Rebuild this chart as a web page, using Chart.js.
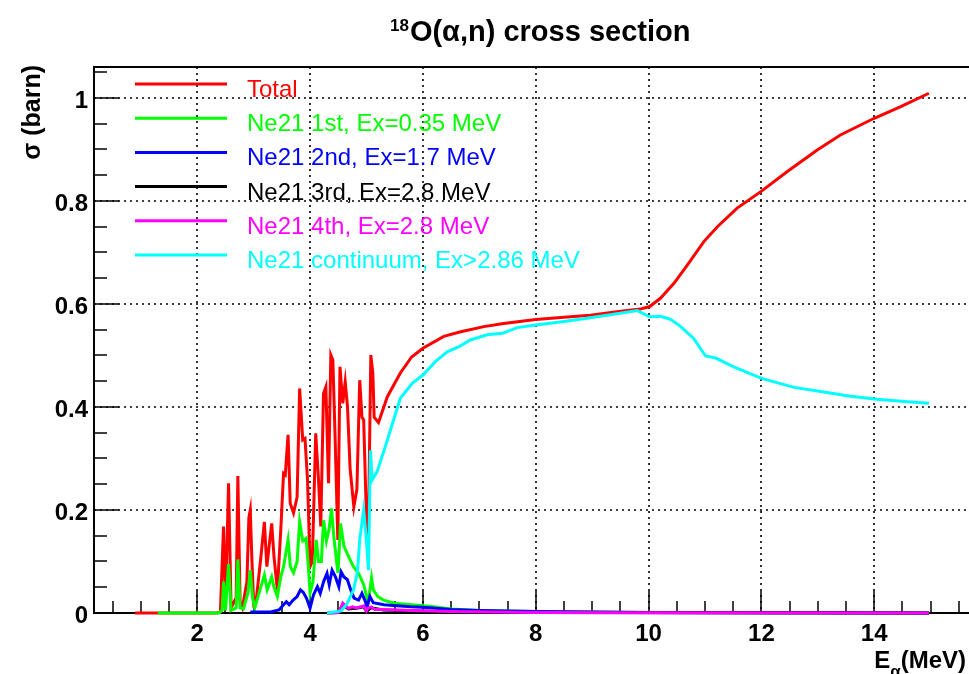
<!DOCTYPE html>
<html><head><meta charset="utf-8">
<script src="https://cdn.jsdelivr.net/npm/chart.js@4.4.1/dist/chart.umd.min.js"></script>
<style>html,body{margin:0;padding:0;background:#fff;overflow:hidden}canvas{display:block}</style>
</head><body>
<canvas id="c" width="969" height="674"></canvas>
<script>
// ---- data (E_alpha in MeV, sigma in barn) ----
const totalE = [0.9, 2.35, 2.41, 2.466, 2.50, 2.555, 2.60, 2.69, 2.72, 2.76, 2.80, 2.88, 2.915, 2.94, 2.97, 3.0, 3.05, 3.12, 3.19, 3.234, 3.32, 3.36, 3.42, 3.48, 3.53, 3.56, 3.61, 3.648, 3.707, 3.77, 3.815, 3.87, 3.91, 3.955, 4.0, 4.04, 4.10, 4.15, 4.19, 4.238, 4.28, 4.327, 4.368, 4.404, 4.445, 4.492, 4.53, 4.58, 4.623, 4.663, 4.71, 4.776, 4.83, 4.88, 4.92, 4.95, 4.99, 5.03, 5.077, 5.113, 5.136, 5.213, 5.37, 5.6, 5.8, 6.0, 6.37, 6.67, 7.08, 7.43, 8.0, 8.5, 8.97, 9.44, 9.85, 10.02, 10.21, 10.45, 10.69, 10.98, 11.22, 11.57, 11.99, 12.46, 12.99, 13.40, 13.99, 14.47, 14.97];
const totalS = [0, 0, 0.002, 0.168, 0.01, 0.252, 0.01, 0.03, 0.266, 0.02, 0.01, 0.06, 0.185, 0.2, 0.1, 0.02, 0.03, 0.1, 0.177, 0.09, 0.174, 0.11, 0.045, 0.16, 0.271, 0.268, 0.346, 0.213, 0.194, 0.225, 0.436, 0.336, 0.339, 0.258, 0.09, 0.1, 0.349, 0.258, 0.168, 0.426, 0.439, 0.252, 0.501, 0.491, 0.336, 0.142, 0.478, 0.407, 0.449, 0.401, 0.28, 0.206, 0.24, 0.452, 0.38, 0.375, 0.22, 0.13, 0.501, 0.465, 0.38, 0.37, 0.42, 0.466, 0.497, 0.514, 0.537, 0.546, 0.556, 0.562, 0.570, 0.574, 0.578, 0.585, 0.59, 0.595, 0.611, 0.640, 0.676, 0.721, 0.750, 0.786, 0.818, 0.857, 0.899, 0.928, 0.960, 0.983, 1.009];

const ne1E = [1.3, 2.38, 2.44, 2.466, 2.50, 2.555, 2.60, 2.69, 2.72, 2.76, 2.82, 2.90, 2.94, 2.98, 3.02, 3.10, 3.19, 3.24, 3.32, 3.36, 3.42, 3.48, 3.53, 3.61, 3.65, 3.707, 3.77, 3.815, 3.87, 3.93, 3.97, 4.0, 4.05, 4.11, 4.15, 4.2, 4.24, 4.29, 4.34, 4.38, 4.42, 4.47, 4.495, 4.54, 4.6, 4.68, 4.77, 4.86, 4.95, 5.03, 5.09, 5.12, 5.2, 5.3, 5.5, 6.0, 6.2, 6.5, 7.0, 8.0, 9.0, 10.0, 12.0, 14.97];
const ne1S = [0, 0, 0.005, 0.061, 0.005, 0.095, 0.005, 0.01, 0.104, 0.01, 0.008, 0.04, 0.083, 0.03, 0.01, 0.04, 0.074, 0.045, 0.07, 0.05, 0.032, 0.07, 0.09, 0.142, 0.09, 0.078, 0.1, 0.177, 0.14, 0.145, 0.09, 0.039, 0.06, 0.142, 0.1, 0.1, 0.18, 0.14, 0.165, 0.203, 0.15, 0.1, 0.078, 0.174, 0.13, 0.11, 0.09, 0.077, 0.055, 0.02, 0.068, 0.045, 0.032, 0.025, 0.019, 0.014, 0.012, 0.008, 0.005, 0.003, 0.002, 0.001, 0.0005, 0];

const ne2E = [2.94, 3.3, 3.45, 3.53, 3.58, 3.63, 3.7, 3.77, 3.83, 3.88, 3.94, 4.0, 4.06, 4.13, 4.18, 4.24, 4.3, 4.34, 4.39, 4.45, 4.51, 4.55, 4.6, 4.66, 4.72, 4.78, 4.86, 4.92, 4.97, 5.01, 5.06, 5.12, 5.31, 5.78, 6.0, 6.5, 7.0, 8.0, 9.0, 10.0, 12.0, 14.97];
const ne2S = [0.002, 0.002, 0.006, 0.016, 0.022, 0.016, 0.025, 0.032, 0.045, 0.04, 0.028, 0.009, 0.035, 0.051, 0.038, 0.061, 0.077, 0.055, 0.083, 0.07, 0.051, 0.08, 0.07, 0.065, 0.045, 0.029, 0.025, 0.038, 0.025, 0.012, 0.032, 0.02, 0.016, 0.012, 0.011, 0.007, 0.005, 0.003, 0.002, 0.001, 0.0005, 0];

const ne3E = [4.3, 4.5, 4.58, 4.68, 4.82, 4.95, 5.0, 5.08, 5.3, 6.5, 8.0, 14.97];
const ne3S = [0, 0.001, 0.016, 0.008, 0.009, 0.012, 0.003, 0.01, 0.006, 0.002, 0.001, 0];

const ne4E = [4.3, 4.5, 4.55, 4.58, 4.62, 4.68, 4.75, 4.82, 4.9, 4.95, 5.0, 5.03, 5.08, 5.15, 5.3, 5.78, 6.5, 8.0, 10.0, 14.97];
const ne4S = [0, 0.001, 0.01, 0.019, 0.015, 0.009, 0.012, 0.01, 0.012, 0.014, 0.004, 0.01, 0.012, 0.007, 0.007, 0.005, 0.003, 0.001, 0.0005, 0];

const contE = [4.3, 4.55, 4.65, 4.77, 4.84, 4.88, 4.95, 5.0, 5.035, 5.07, 5.1, 5.19, 5.37, 5.6, 5.81, 6.0, 6.22, 6.43, 6.64, 6.84, 7.14, 7.41, 7.67, 8.0, 8.5, 8.97, 9.44, 9.8, 10.02, 10.21, 10.39, 10.57, 10.8, 11.01, 11.19, 11.51, 11.99, 12.58, 13.05, 13.58, 14.05, 14.59, 14.97];
const contS = [0, 0.004, 0.017, 0.045, 0.08, 0.142, 0.2, 0.14, 0.083, 0.316, 0.258, 0.275, 0.336, 0.417, 0.446, 0.462, 0.488, 0.507, 0.517, 0.530, 0.540, 0.543, 0.554, 0.559, 0.566, 0.573, 0.581, 0.587, 0.575, 0.576, 0.570, 0.556, 0.533, 0.499, 0.495, 0.478, 0.456, 0.438, 0.430, 0.421, 0.415, 0.410, 0.407];

const seriesNames = ['Total', 'Ne21 1st, Ex=0.35 MeV', 'Ne21 2nd, Ex=1.7 MeV', 'Ne21 3rd, Ex=2.8 MeV', 'Ne21 4th, Ex=2.8 MeV', 'Ne21 continuum, Ex>2.86 MeV'];
const seriesColors = ['#ff0000', '#00ff00', '#0000ff', '#000000', '#ff00ff', '#00ffff'];

const xTickVals = [2, 4, 6, 8, 10, 12, 14];
const xTickLabels = ['2', '4', '6', '8', '10', '12', '14'];
const yTickVals = [0, 0.2, 0.4, 0.6, 0.8, 1.0];
const yTickLabels = ['0', '0.2', '0.4', '0.6', '0.8', '1'];
const xMinorStep = 0.5, yMinorStep = 0.05;

const FONT = '"Liberation Sans", Arial, Helvetica, sans-serif';

function pts(E, S) { const n = Math.min(E.length, S.length); const r = []; for (let i = 0; i < n; i++) r.push({x: E[i], y: S[i]}); return r; }
const allE = [totalE, ne1E, ne2E, ne3E, ne4E, contE];
const allS = [totalS, ne1S, ne2S, ne3S, ne4S, contS];

const datasets = seriesNames.map((name, i) => ({
  label: name,
  data: pts(allE[i], allS[i]),
  borderColor: seriesColors[i],
  backgroundColor: seriesColors[i],
  borderWidth: 3,
  pointRadius: 0,
  tension: 0,
  fill: false,
  clip: 4,
  order: 10 - i
}));

const rootPlugin = {
  id: 'rootStyle',
  beforeDatasetsDraw(chart) {
    const {ctx, chartArea: a, scales: {x, y}} = chart;
    ctx.save();
    ctx.strokeStyle = '#000';
    // dotted grid
    ctx.lineWidth = 1.6;
    ctx.setLineDash([2, 4]);
    xTickVals.forEach(v => {
      const p = Math.round(x.getPixelForValue(v));
      ctx.beginPath(); ctx.moveTo(p, a.top); ctx.lineTo(p, a.bottom); ctx.stroke();
    });
    yTickVals.forEach(v => {
      if (v === 0) return;
      const p = Math.round(y.getPixelForValue(v));
      ctx.beginPath(); ctx.moveTo(a.left, p); ctx.lineTo(a.right, p); ctx.stroke();
    });
    ctx.setLineDash([]);
    // frame
    ctx.lineWidth = 2;
    ctx.beginPath();
    ctx.moveTo(a.right + 2, a.top); ctx.lineTo(a.left, a.top); ctx.lineTo(a.left, a.bottom); ctx.lineTo(a.right + 2, a.bottom);
    ctx.stroke();
    // ticks
    ctx.lineWidth = 1.5;
    for (let v = Math.ceil(x.min / xMinorStep) * xMinorStep; v <= x.max + 1e-9; v += xMinorStep) {
      const major = Math.abs(v / 2 - Math.round(v / 2)) < 1e-6;
      const p = Math.round(x.getPixelForValue(v));
      ctx.beginPath(); ctx.moveTo(p, a.bottom); ctx.lineTo(p, a.bottom - (major ? 22 : 12)); ctx.stroke();
    }
    for (let k = 1; k * yMinorStep <= y.max + 1e-9; k++) {
      const v = k * yMinorStep;
      const major = k % 4 === 0;
      const p = Math.round(y.getPixelForValue(v));
      ctx.beginPath(); ctx.moveTo(a.left, p); ctx.lineTo(a.left + (major ? 25 : 13), p); ctx.stroke();
    }
    ctx.restore();
  },
  afterDatasetsDraw(chart) {
    const {ctx} = chart;
    ctx.save();
    // legend
    const ly0 = 84, ldy = 34.2;
    seriesNames.forEach((name, i) => {
      const ly = ly0 + i * ldy;
      ctx.strokeStyle = seriesColors[i];
      ctx.lineWidth = 3;
      ctx.beginPath(); ctx.moveTo(135, ly); ctx.lineTo(227, ly); ctx.stroke();
      ctx.fillStyle = seriesColors[i];
      ctx.font = '24px ' + FONT;
      ctx.textAlign = 'left';
      ctx.textBaseline = 'alphabetic';
      ctx.fillText(name, 247, ly + 13);
    });
    // title
    ctx.fillStyle = '#000';
    ctx.textBaseline = 'alphabetic';
    ctx.textAlign = 'left';
    ctx.font = 'bold 17px ' + FONT;
    ctx.fillText('18', 390, 31);
    const sw = ctx.measureText('18').width;
    ctx.font = 'bold 29px ' + FONT;
    ctx.fillText('O(\u03b1,n) cross section', 390 + sw + 1, 41);
    // x title
    ctx.font = 'bold 24px ' + FONT;
    ctx.textAlign = 'right';
    ctx.fillText('(MeV)', 966, 668);
    const w1 = ctx.measureText('(MeV)').width;
    ctx.font = 'bold 17px ' + FONT;
    ctx.fillText('\u03b1', 966 - w1, 677);
    const w2 = ctx.measureText('\u03b1').width;
    ctx.font = 'bold 24px ' + FONT;
    ctx.fillText('E', 966 - w1 - w2, 668);
    // y title
    ctx.translate(33, 65);
    ctx.rotate(-Math.PI / 2);
    ctx.textAlign = 'right';
    ctx.textBaseline = 'middle';
    ctx.font = 'bold 25px ' + FONT;
    ctx.fillText('\u03c3 (barn)', 0, 0);
    ctx.restore();
  }
};

new Chart(document.getElementById('c'), {
  type: 'line',
  data: {datasets},
  plugins: [rootPlugin],
  options: {
    responsive: false,
    animation: false,
    devicePixelRatio: 1,
    layout: {padding: {left: 0, top: 67, right: 0, bottom: 0}},
    plugins: {legend: {display: false}, tooltip: {enabled: false}, title: {display: false}},
    scales: {
      x: {
        type: 'linear', min: 0.17, max: 15.68,
        grid: {display: false, drawTicks: false}, border: {display: false},
        afterBuildTicks: s => { s.ticks = xTickVals.map(v => ({value: v})); },
        afterFit: s => { s.height = 61; },
        ticks: {autoSkip: false, maxRotation: 0, padding: 7, color: '#000',
          font: {family: FONT, size: 24, weight: 'bold'},
          callback: (v, i) => xTickLabels[i]}
      },
      y: {
        type: 'linear', min: 0, max: 1.06,
        grid: {display: false, drawTicks: false}, border: {display: false},
        afterBuildTicks: s => { s.ticks = yTickVals.map(v => ({value: v})); },
        afterFit: s => { s.width = 94; },
        ticks: {autoSkip: false, padding: 6, color: '#000', labelOffset: 3,
          font: {family: FONT, size: 24, weight: 'bold'},
          callback: (v, i) => yTickLabels[i]}
      }
    }
  }
});
</script>
</body></html>
